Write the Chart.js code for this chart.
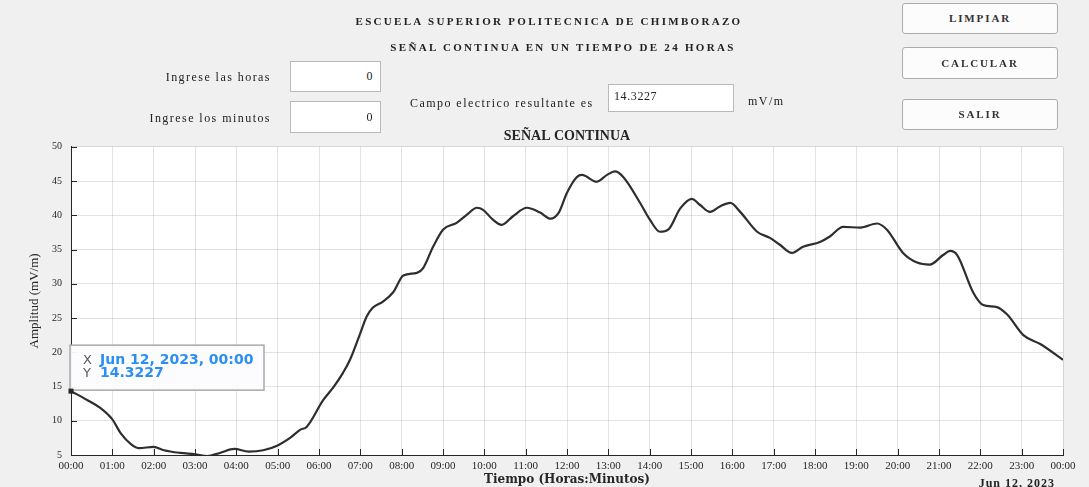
<!DOCTYPE html>
<html lang="es">
<head>
  <meta charset="UTF-8">
  <title>Señal continua</title>
  <script src="https://cdn.jsdelivr.net/npm/chart.js"></script>
  <style>
    html, body { margin: 0; padding: 0; background: #f0f0f0; }
    body { width: 1089px; height: 487px; position: relative; overflow: hidden;
           font-family: "Liberation Serif", serif; color: #222; }
    #grafica { position: absolute; left: 0; top: 0; }
    .txt { position: absolute; white-space: nowrap; font-size: 12px; letter-spacing: 1.45px; line-height: 16px; }
    .der { text-align: right; }
    .head { font-weight: bold; font-size: 11px; letter-spacing: 2.3px; text-align: center; }
    .edit { position: absolute; background: #fff; border: 1px solid #b9b9b9; box-sizing: border-box;
            font-size: 12px; letter-spacing: 0.6px; }
    .btn { position: absolute; left: 902px; width: 156px; background: #fcfcfc; border: 1px solid #acacac;
           border-radius: 3px; box-sizing: border-box; text-align: center; font-weight: bold;
           font-size: 11px; letter-spacing: 1.9px; color: #333; }
  </style>
</head>
<body>
  <canvas id="grafica" width="1089" height="487"></canvas>

  <div class="txt head" style="left:341px; top:13px; width:416px;">ESCUELA SUPERIOR POLITECNICA DE CHIMBORAZO</div>
  <div class="txt head" style="left:355px; top:39px; width:416px;">SEÑAL CONTINUA EN UN TIEMPO DE 24 HORAS</div>

  <div class="txt der" style="left:100px; top:69px; width:171px;">Ingrese las horas</div>
  <div class="edit" style="left:290px; top:61px; width:91px; height:31px; line-height:29px; text-align:right; padding-right:7px;">0</div>
  <div class="txt der" style="left:100px; top:110px; width:171px;">Ingrese los minutos</div>
  <div class="edit" style="left:290px; top:101px; width:91px; height:32px; line-height:30px; text-align:right; padding-right:7px;">0</div>

  <div class="txt" style="left:410px; top:95px;">Campo electrico resultante es</div>
  <div class="edit" style="left:608px; top:84px; width:126px; height:28px; line-height:22px; padding-left:5px;">14.3227</div>
  <div class="txt" style="left:748px; top:93px;">mV/m</div>

  <div class="btn" style="top:3px; height:31px; line-height:29px;">LIMPIAR</div>
  <div class="btn" style="top:47px; height:32px; line-height:30px;">CALCULAR</div>
  <div class="btn" style="top:99px; height:31px; line-height:29px;">SALIR</div>

  <div class="txt der" style="left:920px; top:475px; width:135px; font-weight:bold; letter-spacing:1px; font-size:12px;">Jun 12, 2023</div>

  <script>
    // lecturas de la curva (hora del dia, amplitud en mV/m)
    const horas = [0, 0.4, 0.7, 1.0, 1.2, 1.45, 1.65, 2.0, 2.25, 2.65,
                   3.0, 3.3, 3.6, 3.95, 4.3, 4.65, 5.0, 5.3, 5.55, 5.7,
                   6.1, 6.35, 6.58, 6.75, 7.0, 7.15, 7.3, 7.55, 7.8, 8.04,
                   8.37, 8.52, 8.76, 9.0, 9.33, 9.58, 9.82, 9.97, 10.2, 10.42,
                   10.7, 11.03, 11.35, 11.6, 11.8, 12.0, 12.24, 12.36, 12.72, 12.97,
                   13.16, 13.36, 13.77, 14.0, 14.25, 14.45, 14.74, 15.02, 15.22, 15.46,
                   15.7, 15.95, 16.19, 16.6, 16.91, 17.15, 17.44, 17.71, 18.12, 18.36,
                   18.68, 19.1, 19.5, 19.74, 20.13, 20.47, 20.78, 21.1, 21.27, 21.44,
                   21.83, 22.07, 22.4, 22.65, 23.04, 23.45, 24];
    const amplitud = [14.32, 13.0, 11.9, 10.2, 8.2, 6.6, 6.0, 6.2, 5.7, 5.3,
                      5.1, 4.85, 5.3, 5.9, 5.5, 5.7, 6.4, 7.5, 8.7, 9.1,
                      13.0, 14.9, 17.0, 18.9, 22.8, 25.2, 26.5, 27.4, 28.8, 31.2,
                      31.6, 32.3, 35.4, 37.9, 38.9, 40.1, 41.1, 40.8, 39.4, 38.6,
                      39.9, 41.1, 40.4, 39.5, 40.4, 43.3, 45.6, 45.9, 44.9, 45.9,
                      46.4, 45.6, 41.8, 39.4, 37.6, 37.9, 41.0, 42.4, 41.5, 40.5,
                      41.3, 41.8, 40.5, 37.6, 36.7, 35.7, 34.5, 35.4, 36.1, 36.9,
                      38.3, 38.2, 38.8, 37.9, 34.5, 33.1, 32.8, 34.2, 34.8, 34.2,
                      28.7, 26.9, 26.6, 25.5, 22.5, 21.2, 18.9];
    const etiquetasHoras = ['00:00', '01:00', '02:00', '03:00', '04:00', '05:00', '06:00', '07:00',
                            '08:00', '09:00', '10:00', '11:00', '12:00', '13:00', '14:00', '15:00',
                            '16:00', '17:00', '18:00', '19:00', '20:00', '21:00', '22:00', '23:00', '00:00'];
    const ticksAmplitud = [5, 10, 15, 20, 25, 30, 35, 40, 45, 50];

    // dato marcado (data tip)
    const datoX = 'Jun 12, 2023, 00:00';
    const datoY = 14.3227;

    const puntos = horas.map((h, i) => ({ x: h, y: amplitud[i] }));

    // fondo blanco del area de ejes
    const fondoEjes = {
      id: 'fondoEjes',
      beforeDraw(chart) {
        const { ctx, chartArea: a } = chart;
        ctx.save();
        ctx.fillStyle = '#ffffff';
        ctx.fillRect(a.left, a.top, a.right - a.left, a.bottom - a.top);
        ctx.restore();
      }
    };

    // marcas hacia adentro, como en matlab
    const marcas = {
      id: 'marcas',
      afterDatasetsDraw(chart) {
        const { ctx, scales: { x, y }, chartArea: a } = chart;
        ctx.save();
        ctx.strokeStyle = '#262626';
        ctx.lineWidth = 1;
        ctx.beginPath();
        x.ticks.forEach((t, i) => {
          const px = Math.round(x.getPixelForTick(i)) + 0.5;
          ctx.moveTo(px, a.bottom);
          ctx.lineTo(px, a.bottom - 6);
        });
        y.ticks.forEach((t, i) => {
          const py = Math.round(y.getPixelForTick(i)) + 0.5;
          ctx.moveTo(a.left, py);
          ctx.lineTo(a.left + 6, py);
        });
        ctx.stroke();
        ctx.restore();
      }
    };

    const dataTip = {
      id: 'dataTip',
      afterDraw(chart) {
        const { ctx, scales: { x, y } } = chart;
        const px = x.getPixelForValue(horas[0]);
        const py = y.getPixelForValue(datoY);
        ctx.save();
        const bx = px - 1, by = py - 46, bw = 194, bh = 45;
        ctx.fillStyle = 'rgba(252,252,255,0.95)';
        ctx.fillRect(bx, by, bw, bh);
        ctx.strokeStyle = '#a9a9a9';
        ctx.lineWidth = 1.5;
        ctx.strokeRect(bx, by, bw, bh);
        ctx.fillStyle = '#262626';
        ctx.fillRect(px - 2.5, py - 2.5, 5, 5);
        ctx.textBaseline = 'middle';
        ctx.font = '13px "DejaVu Sans"';
        ctx.fillStyle = '#5c5c5c';
        ctx.fillText('X', bx + 13, by + 15);
        ctx.fillText('Y', bx + 13, by + 28);
        ctx.font = 'bold 14px "DejaVu Sans"';
        ctx.fillStyle = '#2a8ff0';
        ctx.fillText(datoX, bx + 30, by + 15);
        ctx.fillText(datoY.toFixed(4), bx + 30, by + 28);
        ctx.restore();
      }
    };

    const ctx = document.getElementById('grafica').getContext('2d');

    new Chart(ctx, {
      type: 'line',
      data: {
        datasets: [{
          data: puntos,
          borderColor: '#2e2e2e',
          borderWidth: 2.2,
          pointRadius: 0,
          cubicInterpolationMode: 'monotone',
          fill: false
        }]
      },
      options: {
        responsive: false,
        animation: false,
        devicePixelRatio: 1,
        layout: { padding: { top: 119, right: 26, left: 0, bottom: 0 } },
        plugins: {
          legend: { display: false },
          tooltip: { enabled: false },
          title: {
            display: true,
            fullSize: false,
            text: 'SEÑAL CONTINUA',
            color: '#262626',
            font: { family: '"Liberation Serif"', size: 14, weight: 'bold' },
            padding: { top: 9, bottom: 2 }
          }
        },
        scales: {
          x: {
            type: 'linear',
            min: 0,
            max: 24,
            afterFit: s => { s.height = 32; },
            afterBuildTicks: s => { s.ticks = etiquetasHoras.map((_, i) => ({ value: i })); },
            ticks: {
              autoSkip: false,
              maxRotation: 0,
              padding: 5,
              color: '#262626',
              font: { family: '"Liberation Serif"', size: 11 },
              callback: (v, i) => etiquetasHoras[i]
            },
            grid: { color: 'rgba(0,0,0,0.11)', drawTicks: false },
            border: { color: '#262626', width: 1 },
            title: {
              display: true,
              text: 'Tiempo (Horas:Minutos)',
              color: '#262626',
              font: { family: '"DejaVu Serif"', size: 12, weight: 'bold' },
              padding: { top: 0, bottom: 0 }
            }
          },
          y: {
            min: 5,
            max: 50,
            afterFit: s => { s.width = 71; },
            afterBuildTicks: s => { s.ticks = ticksAmplitud.map(v => ({ value: v })); },
            ticks: {
              padding: 9,
              color: '#262626',
              font: { family: '"Liberation Serif"', size: 10 }
            },
            grid: { color: 'rgba(0,0,0,0.11)', drawTicks: false },
            border: { color: '#262626', width: 1 },
            title: {
              display: true,
              text: 'Amplitud (mV/m)',
              color: '#262626',
              font: { family: '"Liberation Serif"', size: 13 },
              padding: { top: 27, bottom: 0 }
            }
          }
        }
      },
      plugins: [fondoEjes, marcas, dataTip]
    });
  </script>
</body>
</html>
